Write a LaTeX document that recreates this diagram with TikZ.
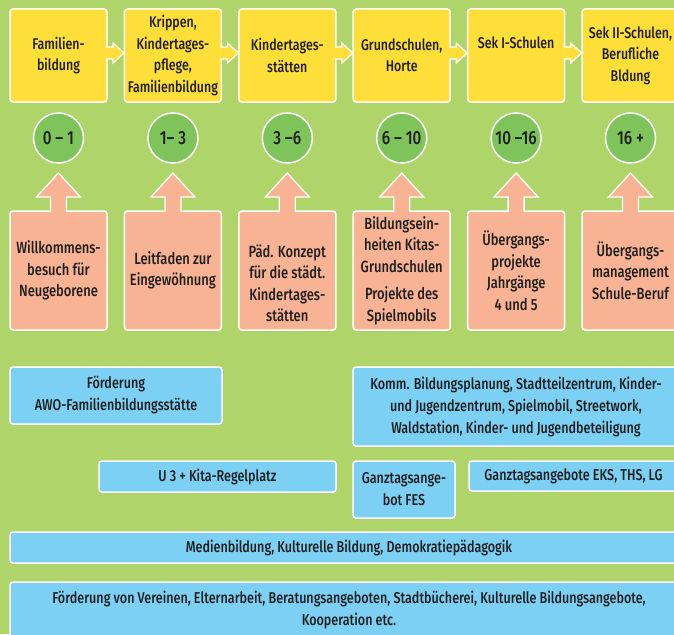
\documentclass[tikz,border=0pt]{standalone}
\usepackage{fontspec}
\setmainfont{Fira Sans}[UprightFont=* Medium, FakeStretch=0.8]
\usepackage{xcolor}
\usepackage{tikz}

\definecolor{bggreen}{HTML}{AED46A}
\definecolor{boxyellow}{HTML}{FEDE38}
\definecolor{agegreen}{HTML}{7FC45A}
\definecolor{boxpink}{HTML}{F8B394}
\definecolor{boxblue}{HTML}{7CD0F4}
\definecolor{textdark}{HTML}{1E1E1E}

\begin{document}
\begin{tikzpicture}[x=1pt, y=-1pt,
    every node/.style={draw=white, line width=1.5pt, outer sep=0pt, inner sep=2pt,
        align=center, text=textdark, font=\fontsize{15.5}{21.5}\selectfont},
    stage/.style={fill=boxyellow, rounded corners=3pt, minimum width=97pt, minimum height=93pt},
    age/.style={circle, fill=agegreen, minimum size=50pt, font=\fontsize{19}{20}\selectfont},
    measure/.style={fill=boxpink, rounded corners=3pt, minimum width=97pt, minimum height=119pt,
        font=\fontsize{16.2}{21.5}\selectfont},
    offer/.style={fill=boxblue, rounded corners=3pt, font=\fontsize{15.7}{22}\selectfont},
    nextarrow/.style={draw=white, line width=1.3pt, fill=boxyellow, line join=miter},
    uparrow/.style={draw=white, line width=1.3pt, fill=boxpink, line join=miter}]

    % Background
    \fill[bggreen] (0,0) rectangle (674,634);
    \useasboundingbox (0,0) rectangle (674,634);

    % Stages
    \node[stage] (Y1) at (58.5,55.5) {Familien-\\bildung};
    \node[stage] (Y2) at (172.9,55.5) {Krippen,\\Kindertages-\\pflege,\\Familienbildung};
    \node[stage] (Y3) at (287.3,55.5) {Kindertages-\\stätten};
    \node[stage] (Y4) at (401.7,55.5) {Grundschulen,\\Horte};
    \node[stage] (Y5) at (516.1,55.5) {Sek I-Schulen\\[3.5pt]\mbox{}};
    \node[stage] (Y6) at (630.5,55.5) {Sek II-Schulen,\\Berufliche\\Bldung};

    % Ages
    \node[age] (C1) at (58.5,138) {0 – 1};
    \node[age] (C2) at (172.9,138) {1– 3};
    \node[age] (C3) at (287.3,138) {3 –6};
    \node[age] (C4) at (401.7,138) {6 – 10};
    \node[age] (C5) at (516.1,138) {10 –16};
    \node[age] (C6) at (630.5,138) {16 +};

    % Measures
    \node[measure] (P1) at (58.5,270.5) {Willkommens-\\besuch für\\Neugeborene};
    \node[measure] (P2) at (172.9,270.5) {Leitfaden zur\\Eingewöhnung};
    \node[measure] (P3) at (287.3,270.5) {\mbox{}\\[16.5pt]Päd. Konzept\\für die städt.\\Kindertages-\\stätten};
    \node[measure] (P4) at (401.7,270.5) {Bildungsein-\\heiten Kitas-\\Grundschulen\\[6pt]Projekte des\\Spielmobils};
    \node[measure] (P5) at (516.1,270.5) {Übergangs-\\projekte\\Jahrgänge\\4 und 5};
    \node[measure] (P6) at (630.5,270.5) {Übergangs-\\management\\Schule-Beruf};

    % Arrows between stages
    \draw[nextarrow] ([xshift=-1pt,yshift=8.5pt]Y1.east) -- ++(7,0) -- ++(0,-4) -- ++(11,10) -- ++(-11,10) -- ++(0,-4) -- ++(-7,0);
    \draw[nextarrow] ([xshift=-1pt,yshift=8.5pt]Y2.east) -- ++(7,0) -- ++(0,-4) -- ++(11,10) -- ++(-11,10) -- ++(0,-4) -- ++(-7,0);
    \draw[nextarrow] ([xshift=-1pt,yshift=8.5pt]Y3.east) -- ++(7,0) -- ++(0,-4) -- ++(11,10) -- ++(-11,10) -- ++(0,-4) -- ++(-7,0);
    \draw[nextarrow] ([xshift=-1pt,yshift=8.5pt]Y4.east) -- ++(7,0) -- ++(0,-4) -- ++(11,10) -- ++(-11,10) -- ++(0,-4) -- ++(-7,0);
    \draw[nextarrow] ([xshift=-1pt,yshift=8.5pt]Y5.east) -- ++(7,0) -- ++(0,-4) -- ++(11,10) -- ++(-11,10) -- ++(0,-4) -- ++(-7,0);

    % Arrows from measures to ages
    \draw[uparrow] ([xshift=-8pt,yshift=-1pt]P1.north) -- ++(0,-15) -- ++(-14,0) -- ++(22,-24) -- ++(22,24) -- ++(-14,0) -- ++(0,15);
    \draw[uparrow] ([xshift=-8pt,yshift=-1pt]P2.north) -- ++(0,-15) -- ++(-14,0) -- ++(22,-24) -- ++(22,24) -- ++(-14,0) -- ++(0,15);
    \draw[uparrow] ([xshift=-8pt,yshift=-1pt]P3.north) -- ++(0,-15) -- ++(-14,0) -- ++(22,-24) -- ++(22,24) -- ++(-14,0) -- ++(0,15);
    \draw[uparrow] ([xshift=-8pt,yshift=-1pt]P4.north) -- ++(0,-15) -- ++(-14,0) -- ++(22,-24) -- ++(22,24) -- ++(-14,0) -- ++(0,15);
    \draw[uparrow] ([xshift=-8pt,yshift=-1pt]P5.north) -- ++(0,-15) -- ++(-14,0) -- ++(22,-24) -- ++(22,24) -- ++(-14,0) -- ++(0,15);
    \draw[uparrow] ([xshift=-8pt,yshift=-1pt]P6.north) -- ++(0,-15) -- ++(-14,0) -- ++(22,-24) -- ++(22,24) -- ++(-14,0) -- ++(0,15);

    % Offers
    \node[offer, minimum width=212pt, minimum height=57pt] (awo) at (116,395.5) {Förderung\\AWO-Familienbildungsstätte};
    \node[offer, minimum width=326pt, minimum height=79pt] (komm) at (516,406.5) {Komm. Bildungsplanung, Stadtteilzentrum, Kinder-\\und Jugendzentrum, Spielmobil, Streetwork,\\Waldstation, Kinder- und Jugendbeteiligung};
    \node[offer, minimum width=237pt, minimum height=31pt] (kita) at (217.5,476.5) {U 3 + Kita-Regelplatz};
    \node[offer, minimum width=102pt, minimum height=57pt] (fes) at (404,489.5) {Ganztagsange-\\bot FES};
    \node[offer, minimum width=209pt, minimum height=30pt] (eks) at (573.5,476) {Ganztagsangebote EKS, THS, LG};
    \node[offer, minimum width=678pt, minimum height=31pt] (medien) at (349,547.5) {Medienbildung, Kulturelle Bildung, Demokratiepädagogik};
    \node[offer, minimum width=678pt, minimum height=56pt] (vereine) at (349,610) {Förderung von Vereinen, Elternarbeit, Beratungsangeboten, Stadtbücherei, Kulturelle Bildungsangebote,\\Kooperation etc.};
\end{tikzpicture}
\end{document}
